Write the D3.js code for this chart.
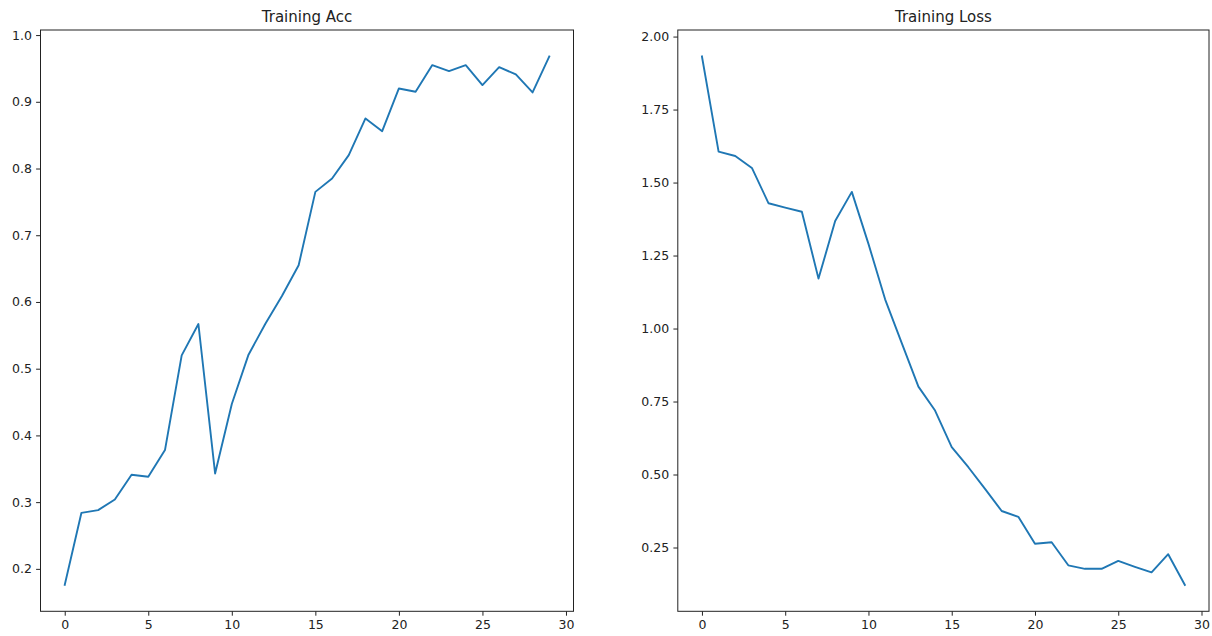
<!DOCTYPE html>
<html>
<head>
<meta charset="utf-8">
<script src="https://cdn.jsdelivr.net/npm/d3@7/dist/d3.min.js"></script>
<style>
  html, body { margin: 0; padding: 0; background: #fff; }
  svg { display: block; }
  text { font-family: "DejaVu Sans", sans-serif; fill: #222; }
</style>
</head>
<body>
<svg id="chart" width="1212" height="636"></svg>
<script>
const epochs = d3.range(30);
const accValues = [0.176, 0.284, 0.288, 0.304, 0.341, 0.338, 0.378, 0.520, 0.567, 0.343,
                   0.447, 0.521, 0.567, 0.609, 0.655, 0.765, 0.785, 0.820, 0.875, 0.856,
                   0.920, 0.915, 0.955, 0.946, 0.955, 0.925, 0.952, 0.941, 0.914, 0.968];
const lossValues = [1.932, 1.606, 1.591, 1.550, 1.429, 1.414, 1.400, 1.171, 1.368, 1.468,
                    1.290, 1.100, 0.950, 0.801, 0.719, 0.594, 0.525, 0.451, 0.375, 0.355,
                    0.263, 0.268, 0.189, 0.177, 0.177, 0.204, 0.184, 0.165, 0.227, 0.122];
const xTicks = [0, 5, 10, 15, 20, 25, 30];
const accTicks = [0.2, 0.3, 0.4, 0.5, 0.6, 0.7, 0.8, 0.9, 1.0];
const lossTicks = [0.25, 0.50, 0.75, 1.00, 1.25, 1.50, 1.75, 2.00];
const titles = ["Training Acc", "Training Loss"];

const svg = d3.select("#chart");
const plotTop = 30, plotBottom = 611.3;

const panels = [
  { title: titles[0], values: accValues, ticks: accTicks, fmt: d3.format(".1f"), x0: 40.5, x1: 573.5 },
  { title: titles[1], values: lossValues, ticks: lossTicks, fmt: d3.format(".2f"), x0: 677.8, x1: 1209 }
];

function margins(arr) {
  const lo = d3.min(arr), hi = d3.max(arr), r = hi - lo;
  return [lo - 0.05 * r, hi + 0.05 * r];
}

panels.forEach(p => {
  const x = d3.scaleLinear().domain(margins(epochs)).range([p.x0, p.x1]);
  const y = d3.scaleLinear().domain(margins(p.values)).range([plotBottom, plotTop]);
  const g = svg.append("g");

  const line = d3.line().x((d, i) => x(epochs[i])).y(d => y(d));
  g.append("path").datum(p.values)
    .attr("d", line)
    .attr("fill", "none")
    .attr("stroke", "#1f77b4")
    .attr("stroke-width", 1.9)
    .attr("stroke-linejoin", "round")
    .attr("stroke-linecap", "square");

  const xAxis = d3.axisBottom(x).tickValues(xTicks).tickFormat(d3.format("d"))
    .tickSize(4.4).tickPadding(4.2).tickSizeOuter(0);
  const gx = g.append("g").attr("transform", `translate(0,${plotBottom})`).call(xAxis);
  const yAxis = d3.axisLeft(y).tickValues(p.ticks).tickFormat(p.fmt)
    .tickSize(4.4).tickPadding(4.2).tickSizeOuter(0);
  const gy = g.append("g").attr("transform", `translate(${p.x0},0)`).call(yAxis);

  [gx, gy].forEach(a => {
    a.select(".domain").remove();
    a.selectAll(".tick line").attr("stroke", "#222").attr("stroke-width", 1);
    a.selectAll(".tick text").attr("font-size", "12.5px").attr("fill", "#222")
      .style("font-family", "'DejaVu Sans', sans-serif");
  });

  g.append("rect")
    .attr("x", p.x0).attr("y", plotTop)
    .attr("width", p.x1 - p.x0).attr("height", plotBottom - plotTop)
    .attr("fill", "none").attr("stroke", "#222").attr("stroke-width", 1);

  g.append("text")
    .attr("x", (p.x0 + p.x1) / 2).attr("y", plotTop - 8)
    .attr("text-anchor", "middle")
    .attr("font-size", "15px")
    .text(p.title);
});
</script>
</body>
</html>
